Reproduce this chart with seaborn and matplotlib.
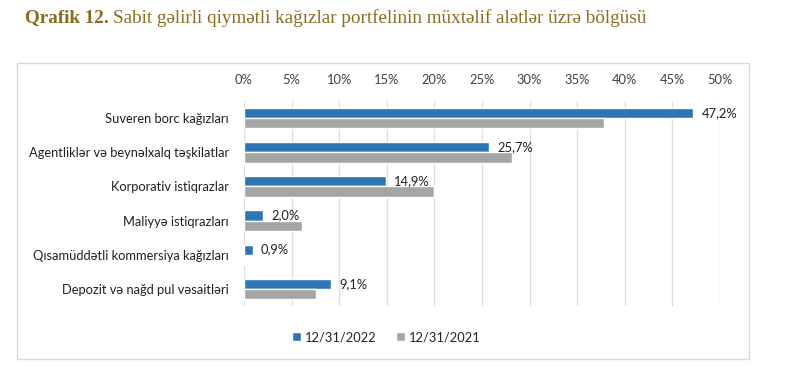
import pandas as pd
import seaborn as sns
import matplotlib.pyplot as plt
from matplotlib.patches import Rectangle

categories = ['Suveren borc kağızları', 'Agentliklər və beynəlxalq təşkilatlar',
              'Korporativ istiqrazlar', 'Maliyyə istiqrazları',
              'Qısamüddətli kommersiya kağızları', 'Depozit və nağd pul vəsaitləri']
vals_2022 = [47.2, 25.7, 14.9, 2.0, 0.9, 9.1]
vals_2021 = [37.8, 28.1, 20.0, 6.1, 0.15, 7.6]
series = ['12/31/2022', '12/31/2021']
labels_2022 = ['47,2%', '25,7%', '14,9%', '2,0%', '0,9%', '9,1%']
ticks = [0, 5, 10, 15, 20, 25, 30, 35, 40, 45, 50]

df = pd.DataFrame({
    'kat': categories * 2,
    'val': vals_2022 + vals_2021,
    'seriya': [series[0]] * 6 + [series[1]] * 6,
})

sns.set_style('white')
plt.rcParams['font.family'] = ['Lato', 'DejaVu Sans']
fs = 9.3

fig = plt.figure(figsize=(7.85, 3.74), dpi=100)
ax = fig.add_axes([244 / 785, 1 - 306 / 374, 476 / 785, 205 / 374])

sns.barplot(data=df, x='val', y='kat', hue='seriya', orient='h', width=0.6,
            palette=['#2E75B6', '#A5A5A5'], saturation=1, ax=ax, legend=True)

ax.set_xlim(0, 50)
ax.set_xticks(ticks)
ax.set_xticklabels([f'{t}%' for t in ticks], fontsize=fs, color='#404040')
ax.xaxis.tick_top()
ax.tick_params(axis='x', length=0, pad=11)
ax.tick_params(axis='y', length=0, pad=11, labelsize=fs, labelcolor='#202020')
ax.set_xlabel('')
ax.set_ylabel('')
ax.grid(axis='x', color='#DDDDDD', linewidth=0.9)
ax.set_axisbelow(True)
for s in ax.spines.values():
    s.set_visible(False)

ax.bar_label(ax.containers[0], labels=labels_2022, padding=6, fontsize=fs, color='#202020')

ax.legend(loc='center', bbox_to_anchor=(386 / 785, 1 - 337 / 374),
          bbox_transform=fig.transFigure, ncol=2, frameon=False, fontsize=fs,
          handlelength=0.7, handleheight=0.7, handletextpad=0.3, columnspacing=1.5)

fig.patches.append(Rectangle((17 / 785, 1 - 359 / 374), 732 / 785, 296 / 374,
                             transform=fig.transFigure, fill=False,
                             edgecolor='#D9D9D9', linewidth=1))

# title: bold part + normal part right after it
t1 = fig.text(25 / 785, 1 - 18 / 374, 'Qrafik 12.', fontsize=13.8, fontweight='bold',
              color='#8B6B1E', family='Liberation Serif', va='center')
fig.canvas.draw()
bb = t1.get_window_extent()
fig.text(bb.x1 / 785 + 4 / 785, 1 - 18 / 374,
         'Sabit gəlirli qiymətli kağızlar portfelinin müxtəlif alətlər üzrə bölgüsü',
         fontsize=13.8, color='#8B6B1E', family='Liberation Serif', va='center')

fig.savefig('out.png', dpi=100)
